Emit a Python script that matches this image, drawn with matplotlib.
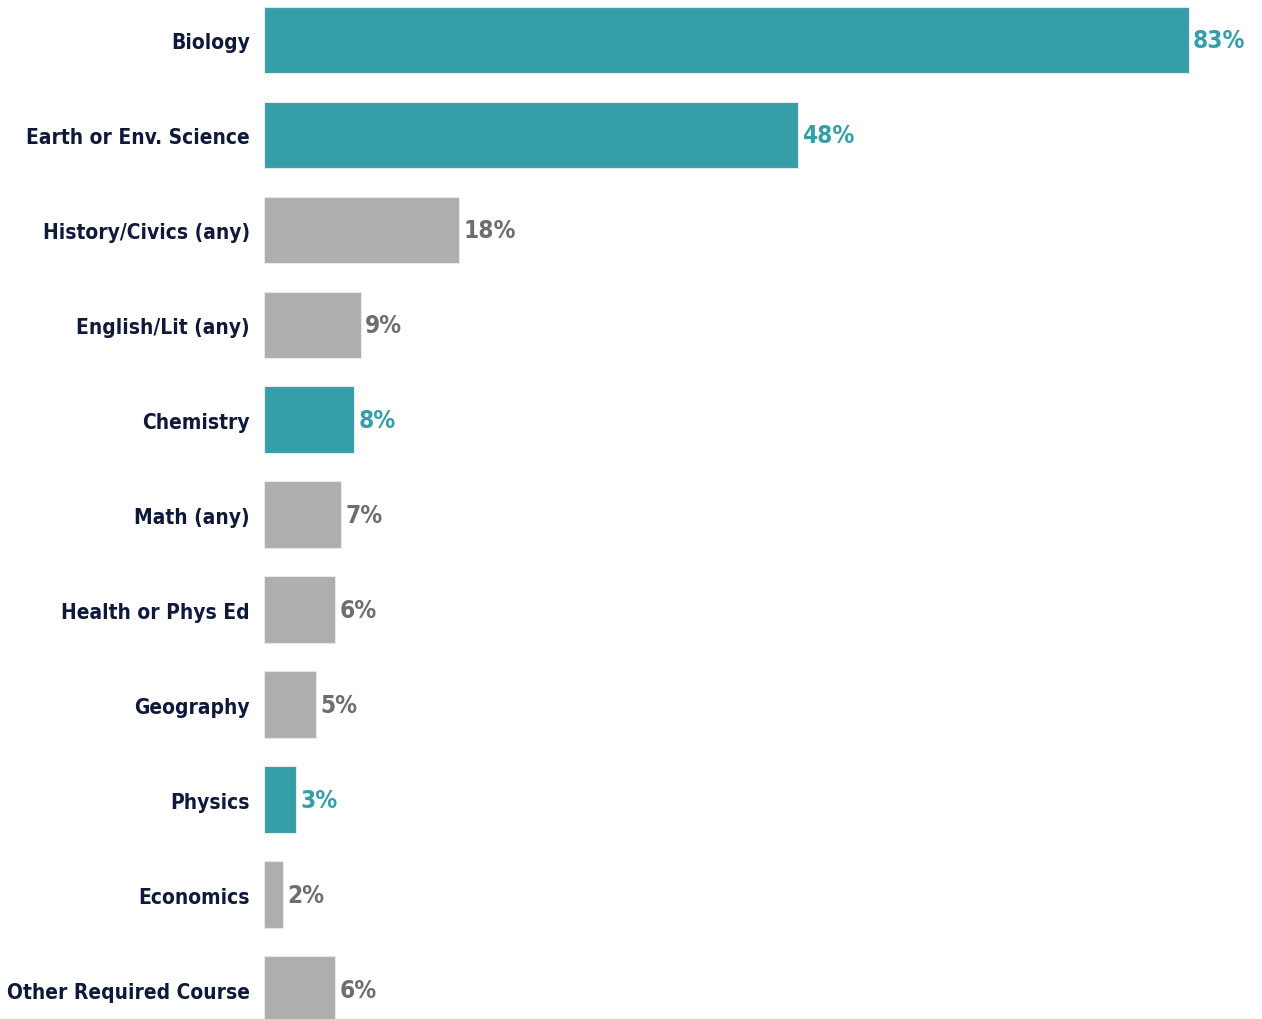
import matplotlib.pyplot as plt

# subject categories, top to bottom
subjects = ["Biology", "Earth or Env. Science", "History/Civics (any)", "English/Lit (any)",
            "Chemistry", "Math (any)", "Health or Phys Ed", "Geography", "Physics",
            "Economics", "Other Required Course"]
# bar lengths (labels are rounded)
pct = [83.0, 47.9, 17.5, 8.7, 8.1, 6.9, 6.4, 4.7, 2.9, 1.7, 6.4]
pct_labels = ["83%", "48%", "18%", "9%", "8%", "7%", "6%", "5%", "3%", "2%", "6%"]
is_science = [True, True, False, False, True, False, False, False, True, False, False]

teal = "#359ea8"
grey = "#aeaeae"
navy = "#0f1a3a"
grey_txt = "#6e6e6e"

fig = plt.figure(figsize=(12.62, 10.2), dpi=100)
ax = fig.add_axes([264 / 1262, 0, 1 - 264 / 1262, 1])

ypos = list(range(len(subjects)))
colors = [teal if s else grey for s in is_science]
ax.barh(ypos, pct, height=0.7, color=colors, edgecolor="#e8e8e8", linewidth=0.8)

ax.set_xlim(0, (1262 - 264) / 11.14)
ax.set_ylim(10.31, -0.43)

for y, v, lab, s in zip(ypos, pct, pct_labels, is_science):
    ax.text(v + 0.4, y, lab, va="center", ha="left", fontsize=17.5,
            fontweight="bold", fontstretch="condensed", family="DejaVu Sans",
            color=teal if s else grey_txt)

ax.set_yticks(ypos)
ax.set_yticklabels(subjects, fontsize=15, fontweight="bold", color=navy,
                   family="DejaVu Sans", fontstretch="condensed")
ax.tick_params(axis="y", length=0, pad=10)
ax.set_xticks([])
for sp in ax.spines.values():
    sp.set_visible(False)

fig.savefig("out.png", dpi=100)
